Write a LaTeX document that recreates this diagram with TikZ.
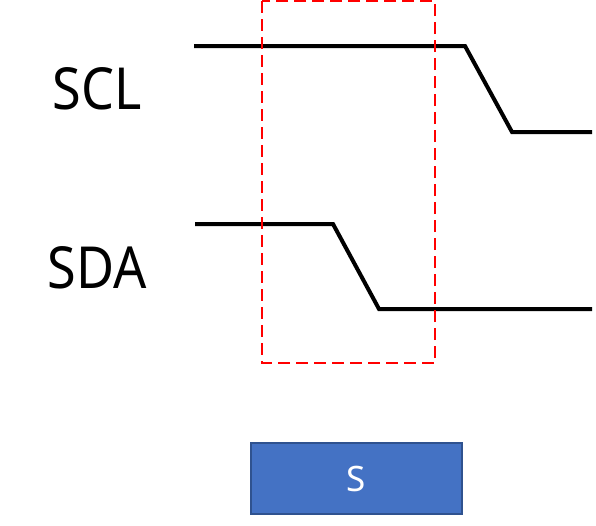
\documentclass[tikz,border=0pt]{standalone}
\usepackage{fontspec}
\setmainfont{Noto Sans}
\usetikzlibrary{positioning}
\definecolor{boxblue}{HTML}{4472C4}
\definecolor{boxedge}{HTML}{2F528F}
\begin{document}
\begin{tikzpicture}[x=1pt, y=-1pt,
  signal/.style={line width=4pt, black},
  window/.style={draw=red, line width=1.8pt, dash pattern=on 12pt off 6pt},
  signame/.style={font=\fontsize{58}{60}\selectfont, xscale=0.9},
  marker/.style={draw=boxedge, fill=boxblue, line width=1.5pt, text=white,
    minimum width=211pt, minimum height=71pt, inner sep=0pt,
    font=\fontsize{35}{36}\selectfont}]

  \useasboundingbox (0,0) rectangle (596,525);

  % signal names
  \node[signame] (scl) at (97,89) {SCL};
  \node[signame] (sda) at (97,268) {SDA};

  % waveforms
  \draw[signal] (194,46) coordinate (scl0) -- (465,46) -- (512,132) -- (592,132) coordinate (scl1);
  \draw[signal] (195,224) coordinate (sda0) -- (333,224) -- (379,309) -- (592,309) coordinate (sda1);

  % start condition window
  \draw[window] (262,1) rectangle (435,363);

  \node[marker] (start) at (356.5,478.5) {S};
\end{tikzpicture}
\end{document}
